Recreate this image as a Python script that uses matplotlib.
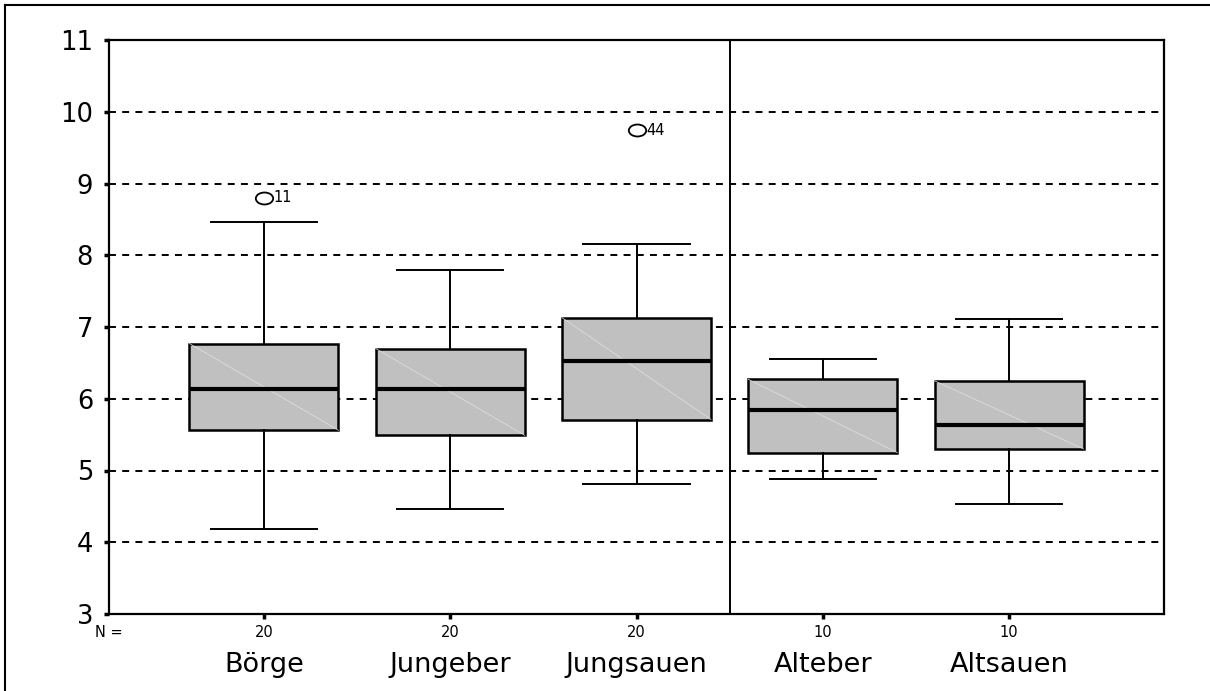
import numpy as np
import matplotlib
matplotlib.use("Agg")
import matplotlib.pyplot as plt
from matplotlib.path import Path
from matplotlib.transforms import Affine2D
from matplotlib.lines import Line2D

# ---- data -------------------------------------------------------------
categories = ["Börge", "Jungeber", "Jungsauen", "Alteber", "Altsauen"]
n_counts = [20, 20, 20, 10, 10]
whisker_low = [4.18, 4.47, 4.81, 4.88, 4.54]
q1 = [5.56, 5.49, 5.71, 5.25, 5.30]
median = [6.13, 6.14, 6.52, 5.85, 5.64]
q3 = [6.77, 6.70, 7.13, 6.27, 6.25]
whisker_high = [8.46, 7.79, 8.16, 6.55, 7.11]
outlier_values = [[8.80], [], [9.74], [], []]
outlier_cases = [["11"], [], ["44"], [], []]
y_ticks = [3, 4, 5, 6, 7, 8, 9, 10, 11]

plt.rcParams["font.family"] = ["DejaVu Sans"]
plt.rcParams["lines.scale_dashes"] = False

W, H = 1210, 691
fig = plt.figure(figsize=(W / 100, H / 100), dpi=100)
ax = fig.add_axes([109 / W, 1 - 614 / H, (1164 - 109) / W, (614 - 40) / H])

positions = np.arange(1, len(categories) + 1)

stats = []
for i, name in enumerate(categories):
    stats.append(dict(label=name, med=median[i], q1=q1[i], q3=q3[i],
                      whislo=whisker_low[i], whishi=whisker_high[i],
                      fliers=outlier_values[i]))

# open, slightly flattened circle for outliers
ellipse = Path.unit_circle().transformed(Affine2D().scale(1.45, 1.0))

ax.bxp(stats, positions=positions, widths=0.8, capwidths=0.57,
       patch_artist=True, showfliers=True, zorder=3,
       boxprops=dict(facecolor="#c0c0c0", edgecolor="black", linewidth=1.8),
       medianprops=dict(color="black", linewidth=3.0),
       whiskerprops=dict(color="black", linewidth=1.4),
       capprops=dict(color="black", linewidth=1.4),
       flierprops=dict(marker=ellipse, markersize=12.5, markerfacecolor="none",
                       markeredgecolor="black", markeredgewidth=1.3))

# faint diagonal across each box
for p, lo, hi in zip(positions, q1, q3):
    ax.plot([p - 0.4, p + 0.4], [hi, lo], color="#e2e2e2", lw=0.5, zorder=3.05)

# case numbers next to outliers
for p, vals, cases in zip(positions, outlier_values, outlier_cases):
    for v, c in zip(vals, cases):
        ax.annotate(c, xy=(p, v), xytext=(7, 0), textcoords="offset points",
                    va="center", ha="left", fontsize=10.5)

# dashed horizontal reference lines
for y in y_ticks[1:-1]:
    ax.axhline(y, color="black", lw=1.4, dashes=(5, 4.5), zorder=1)

# separator between young and old groups
ax.axvline(3.5, color="black", lw=1.4, zorder=2)

ax.set_xlim(0.168, 5.832)
ax.set_ylim(3, 11)
ax.set_yticks(y_ticks)
ax.set_yticklabels([str(t) for t in y_ticks])
ax.set_xticks(positions)
ax.set_xticklabels([""] * len(positions))
ax.tick_params(axis="both", direction="out", length=3.5, width=2.5, color="black")
ax.tick_params(axis="y", labelsize=18.5, pad=8)
for s in ax.spines.values():
    s.set_linewidth(1.6)
    s.set_color("black")

# group sizes and group names under the axis
ax.text(0, -0.0314, "N =", transform=ax.transAxes, ha="center", va="center",
        fontsize=10.5)
trans = ax.get_xaxis_transform()
for p, n, name in zip(positions, n_counts, categories):
    ax.text(p, -0.0314, str(n), transform=trans, ha="center", va="center",
            fontsize=10.5)
    ax.text(p, -0.101, name, transform=trans, ha="center", va="baseline",
            fontsize=19.5)

# outer frame
fig.add_artist(Line2D([5 / W, 5 / W], [0, 1 - 5 / H], transform=fig.transFigure,
                      color="black", lw=1.5))
fig.add_artist(Line2D([5 / W, 1], [1 - 5 / H, 1 - 5 / H], transform=fig.transFigure,
                      color="black", lw=1.5))

fig.savefig("out.png", dpi=100)
